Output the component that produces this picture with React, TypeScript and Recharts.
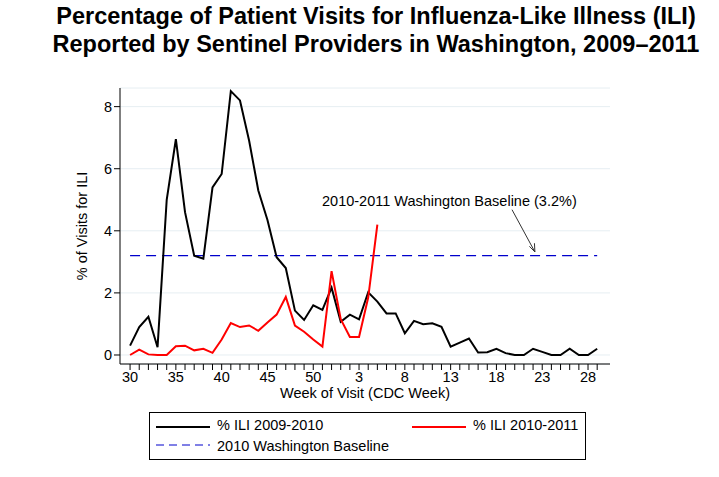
import React from "react";
import { LineChart, Line, XAxis, YAxis, CartesianGrid, ReferenceLine } from "recharts";

const weeks = [30,31,32,33,34,35,36,37,38,39,40,41,42,43,44,45,46,47,48,49,50,51,52,1,2,3,4,5,6,7,8,9,10,11,12,13,14,15,16,17,18,19,20,21,22,23,24,25,26,27,28,29];
const ili0910 = [0.3,0.9,1.23,0.25,5.0,6.95,4.6,3.2,3.1,5.4,5.83,8.5,8.2,6.9,5.3,4.35,3.15,2.8,1.43,1.13,1.6,1.45,2.17,1.07,1.3,1.15,2.02,1.72,1.34,1.34,0.7,1.1,0.99,1.02,0.91,0.27,0.4,0.53,0.08,0.09,0.2,0.06,0,0,0.2,0.1,0,0,0.2,0,0,0.2];
const ili1011 = [0,0.17,0.02,0,0,0.28,0.3,0.15,0.2,0.07,0.5,1.03,0.9,0.95,0.78,1.05,1.3,1.87,0.95,0.75,0.5,0.27,2.7,1.15,0.58,0.58,1.85,4.2];
const baseline = 3.2;
const labeledWeeks = [30,35,40,45,50,3,8,13,18,23,28];
const yTicks = [0,2,4,6,8];

const data = weeks.map((w, i) => ({
  i,
  week: w,
  a: ili0910[i],
  b: i < ili1011.length ? ili1011[i] : null,
  base: baseline,
}));

const font = "Liberation Sans, Arial, sans-serif";

export default function App() {
  return (
    <div style={{ position: "absolute", left: 0, top: 0, width: 719, height: 477, background: "#fff", fontFamily: font }}>
      <div style={{ position: "absolute", left: 0, width: 752, top: 2, textAlign: "center", fontWeight: "bold", fontSize: 23.5, lineHeight: "28px", color: "#000", whiteSpace: "nowrap" }}>
        Percentage of Patient Visits for Influenza-Like Illness (ILI)<br />
        Reported by Sentinel Providers in Washington, 2009–2011
      </div>
      <LineChart width={719} height={477} data={data} margin={{ top: 88, right: 109, bottom: 83, left: 60 }} style={{ position: "absolute", left: 0, top: 0 }}>
        <CartesianGrid horizontal vertical={false} stroke="#e6eef2" />
        <XAxis dataKey="i" type="number" domain={[-1.1, 52.4]} ticks={weeks.map((_, i) => i)} interval={0}
          tickFormatter={(v: number) => (labeledWeeks.includes(weeks[v]) ? String(weeks[v]) : "")}
          tick={{ fill: "#000", fontSize: 14.5, fontFamily: font }} tickSize={6} stroke="#000" height={30} allowDecimals={false} />
        <YAxis type="number" domain={[-0.29, 8.6]} ticks={yTicks} tick={{ fill: "#000", fontSize: 14.5, fontFamily: font }} tickSize={6} stroke="#000" width={60} />
        <Line dataKey="base" stroke="#0000cc" strokeDasharray="10 6" strokeWidth={1.3} dot={false} isAnimationActive={false} />
        <Line dataKey="a" stroke="#000" strokeWidth={2} dot={false} isAnimationActive={false} />
        <Line dataKey="b" stroke="#ff0000" strokeWidth={2} dot={false} isAnimationActive={false} connectNulls={false} />
        <ReferenceLine segment={[{ x: 41.7, y: 4.68 }, { x: 44.2, y: 3.32 }]} stroke="#333" />
        <ReferenceLine segment={[{ x: 43.6, y: 3.5 }, { x: 44.2, y: 3.32 }]} stroke="#333" />
        <ReferenceLine segment={[{ x: 44.15, y: 3.6 }, { x: 44.2, y: 3.32 }]} stroke="#333" />
      </LineChart>
      <div style={{ position: "absolute", left: 322, top: 193, fontSize: 14.5 }}>2010-2011 Washington Baseline (3.2%)</div>
      <div style={{ position: "absolute", left: 120, width: 490, top: 385, textAlign: "center", fontSize: 14.5 }}>Week of Visit (CDC Week)</div>
      <div style={{ position: "absolute", left: 82, top: 226, fontSize: 14.5, transform: "translate(-50%,-50%) rotate(-90deg)", whiteSpace: "nowrap" }}>% of Visits for ILI</div>
      <div style={{ position: "absolute", left: 149, top: 412, width: 437, height: 48, border: "1px solid #000", boxSizing: "border-box", fontSize: 14.5 }}>
        <svg style={{ position: "absolute", left: 6, top: 30 }} width={54} height={4}>
          <line x1={0} y1={2} x2={54} y2={2} stroke="#0000cc" strokeDasharray="8 5" />
        </svg>
        <div style={{ position: "absolute", left: 6, top: 13, width: 54, borderTop: "2px solid #000" }} />
        <div style={{ position: "absolute", left: 67, top: 4 }}>% ILI 2009-2010</div>
        <div style={{ position: "absolute", left: 262, top: 13, width: 54, borderTop: "2px solid #f00" }} />
        <div style={{ position: "absolute", left: 323, top: 4 }}>% ILI 2010-2011</div>
        <div style={{ position: "absolute", left: 67, top: 25 }}>2010 Washington Baseline</div>
      </div>
    </div>
  );
}
